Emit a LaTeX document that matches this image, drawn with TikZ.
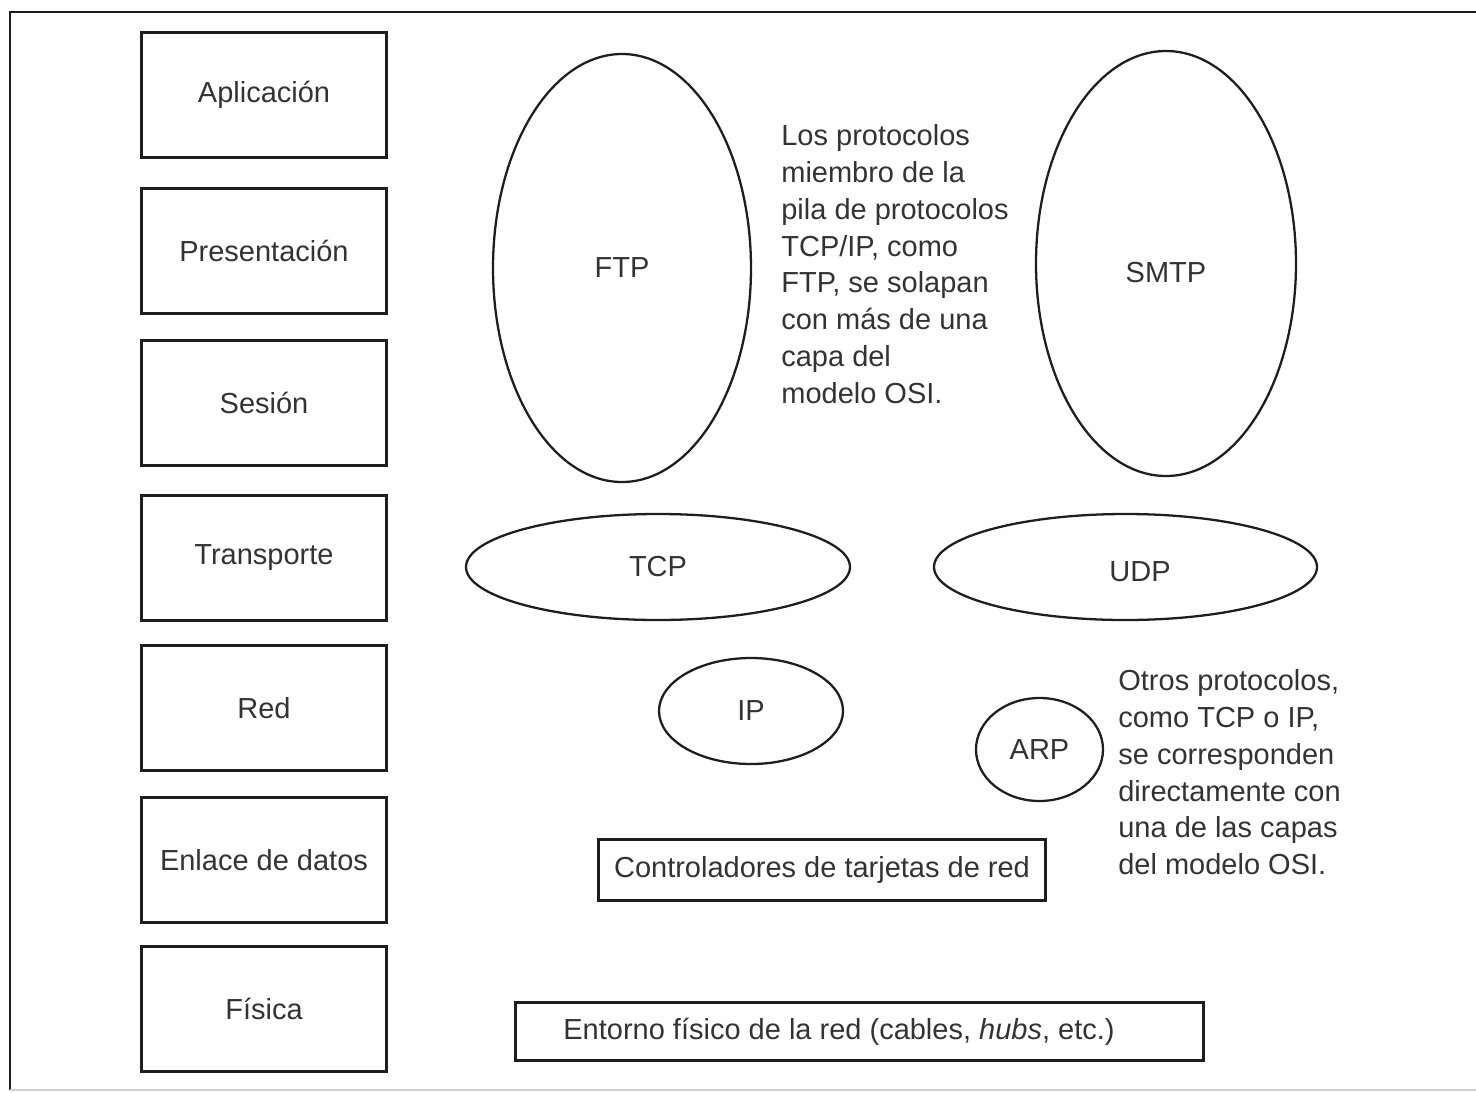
\documentclass[tikz,border=0pt]{standalone}
\usepackage{fontspec}
\setmainfont{Liberation Sans}
\usepackage{xcolor}
\usepackage{tikz}
\usetikzlibrary{shapes.geometric, positioning}
\definecolor{InkGrey}{HTML}{333333}
\definecolor{LineBlack}{HTML}{1E1E1E}
\definecolor{FrameGrey}{HTML}{D0D0D0}

\begin{document}
\begin{tikzpicture}[node distance=0.5cm, font=\fontsize{16.5}{21}\selectfont, text=InkGrey]
    \tikzstyle{layer} = [rectangle, draw=LineBlack, line width=1.7pt, minimum width=4.9cm, minimum height=2.5cm, inner sep=0pt]
    \tikzstyle{proto} = [ellipse, draw=LineBlack, line width=1.3pt, inner sep=0pt]
    \tikzstyle{band} = [rectangle, draw=LineBlack, line width=1.7pt, inner sep=0pt]
    \tikzstyle{note} = [align=left, anchor=north west, inner sep=0pt]

    \useasboundingbox (0,0) rectangle (29.52,-21.84);
    % frame
    \draw [LineBlack, line width=1.6pt] (29.6,-0.24) -- (0.2,-0.24) -- (0.2,-21.8);
    \draw [FrameGrey, line width=0.8pt] (0.2,-21.8) -- (29.6,-21.8);

    % OSI layers
    \node [layer] at (5.28,-1.9) (app) {Aplicación};
    \node [layer, below=0.56cm of app] (pres) {Presentación};
    \node [layer, below=0.48cm of pres] (ses) {Sesión};
    \node [layer, below=0.54cm of ses] (trans) {Transporte};
    \node [layer, below=0.44cm of trans] (red) {Red};
    \node [layer, below=0.48cm of red] (enlace) {Enlace de datos};
    \node [layer, below=0.42cm of enlace] (fisica) {Física};

    % TCP/IP protocols
    \node [proto, minimum width=5.16cm, minimum height=8.56cm] at (12.44,-5.36) (ftp) {FTP};
    \node [proto, minimum width=5.2cm, minimum height=8.5cm, label={[yshift=-0.18cm]center:SMTP}] at (23.32,-5.27) (smtp) {};
    \node [proto, minimum width=7.68cm, minimum height=2.12cm] at (13.16,-11.34) (tcp) {TCP};
    \node [proto, minimum width=7.66cm, minimum height=2.12cm, label={[xshift=0.29cm, yshift=-0.1cm]center:UDP}] at (22.51,-11.34) (udp) {};
    \node [proto, minimum width=3.68cm, minimum height=2.12cm] at (15.02,-14.22) (ip) {IP};
    \node [proto, minimum width=2.54cm, minimum height=2.06cm] at (20.79,-14.99) (arp) {ARP};
    \node [band, minimum width=8.94cm, minimum height=1.22cm] at (16.44,-17.4) (nic) {Controladores de tarjetas de red};
    \node [band, minimum width=13.76cm, minimum height=1.16cm, label={[xshift=-0.41cm]center:Entorno físico de la red (cables, \textit{hubs}, etc.)}] at (17.19,-20.63) (medio) {};

    % notes
    \node [note] at (15.62,-2.48) (solapan) {Los protocolos\\miembro de la\\pila de protocolos\\TCP/IP, como\\FTP, se solapan\\con más de una\\capa del\\modelo OSI.};
    \node [note] at (22.36,-13.38) (otros) {Otros protocolos,\\como TCP o IP,\\se corresponden\\directamente con\\una de las capas\\del modelo OSI.};
\end{tikzpicture}
\end{document}
